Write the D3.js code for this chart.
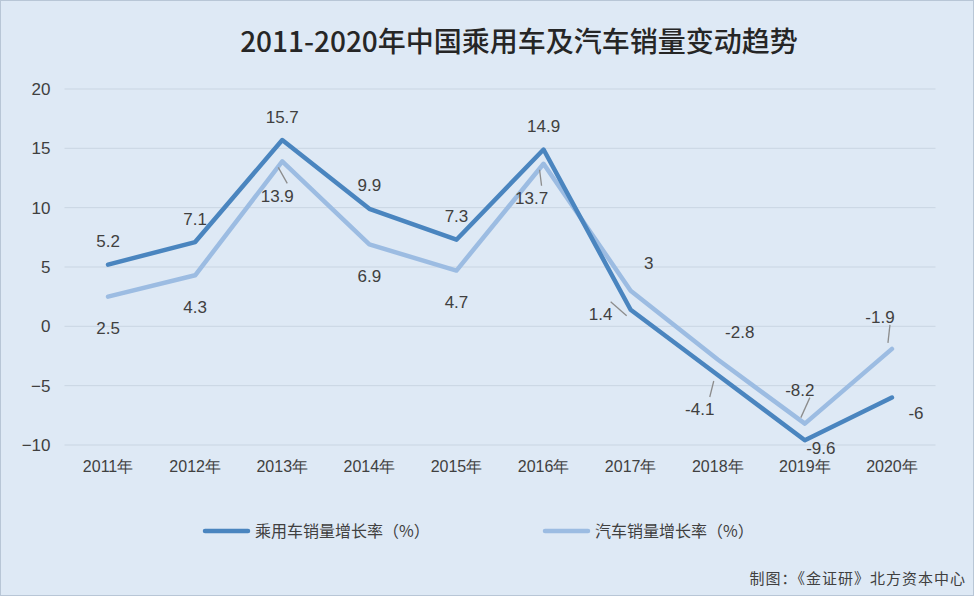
<!DOCTYPE html><html><head><meta charset="utf-8"><script src="https://cdn.jsdelivr.net/npm/d3@7"></script>
<style>body{margin:0}svg{font-family:"Noto Sans CJK SC","Noto Sans",sans-serif}</style></head><body><svg id="c" width="974" height="596"></svg><script>
const categories=["2011年","2012年","2013年","2014年","2015年","2016年","2017年","2018年","2019年","2020年"];
const passenger=[5.2,7.1,15.7,9.9,7.3,14.9,1.4,-4.1,-9.6,-6];
const auto=[2.5,4.3,13.9,6.9,4.7,13.7,3,-2.8,-8.2,-1.9];
const yTicks=[-10,-5,0,5,10,15,20];
const seriesNames=["乘用车销量增长率（%）","汽车销量增长率（%）"];
// label offsets [dx,dy,leader]
const pOff=[[0,-22],[0,-22],[0,-22],[0,-22],[0,-22],[0,-22],[-30,6,1],[-18,36,1],[16,9],[24,17]];
const aOff=[[0,33],[0,33],[-5,36,1],[0,33],[0,33],[-12,36,1],[18,-26],[22,-26],[-5,-32,1],[-12,-30,1]];
const svg=d3.select("#c");
svg.append("rect").attr("x",0.5).attr("y",0.5).attr("width",973).attr("height",595).attr("fill","#dee9f5").attr("stroke","#b8c6d6");
const x=d3.scaleBand().domain(categories).range([64.5,935.5]);
const y=d3.scaleLinear().domain([-10,20]).range([445,89]);
const cx=d=>x(d)+x.bandwidth()/2;
svg.append("text").attr("x",519).attr("y",52).attr("text-anchor","middle").attr("font-size",28).attr("font-weight",500).attr("fill","#262626").text("2011-2020年中国乘用车及汽车销量变动趋势");
svg.append("g").selectAll("line").data(yTicks).join("line").attr("x1",64.5).attr("x2",935.5).attr("y1",d=>y(d)).attr("y2",d=>y(d)).attr("stroke","#c9d5e2").attr("stroke-width",1);
svg.append("g").attr("transform","translate(64.5,0)").call(d3.axisLeft(y).tickValues(yTicks).tickSize(0).tickPadding(14).tickFormat(d3.format("d"))).call(g=>{g.select(".domain").remove();g.selectAll("text").attr("font-size",17).attr("fill","#404040").attr("font-family","Liberation Sans, sans-serif")});
svg.append("g").attr("transform","translate(0,445)").call(d3.axisBottom(x).tickSize(0).tickPadding(16)).call(g=>{g.select(".domain").remove();g.selectAll("text").attr("font-size",16).attr("fill","#404040")});
const colors=["#4a85bf","#9cbce2"];
const line=d3.line().x((d,i)=>cx(categories[i])).y(d=>y(d));
[auto,passenger].forEach((s,k)=>{svg.append("path").datum(s).attr("d",line).attr("fill","none").attr("stroke",k?colors[0]:colors[1]).attr("stroke-width",4.5).attr("stroke-linejoin","round").attr("stroke-linecap","round");});
function labels(s,off){s.forEach((v,i)=>{const px=cx(categories[i]),py=y(v),o=off[i];const tx=px+o[0],ty=py+o[1];
 if(o[2]){svg.append("line").attr("x1",px+(o[0]<0?-4:0)).attr("y1",py+(o[1]>0?6:-6)).attr("x2",tx+(o[0]<0?10:-(o[0]>0?10:0))).attr("y2",ty+(o[1]>0?-14:6)).attr("stroke","#8c8c8c").attr("stroke-width",1.3);}
 svg.append("text").attr("x",tx).attr("y",ty).attr("text-anchor","middle").attr("dominant-baseline","middle").attr("font-size",17).attr("fill","#404040").attr("font-family","Liberation Sans, sans-serif").text(v);});}
labels(passenger,pOff);labels(auto,aOff);
seriesNames.forEach((n,k)=>{const lx=k?545:205;svg.append("line").attr("x1",lx).attr("x2",lx+43).attr("y1",531).attr("y2",531).attr("stroke",colors[k]).attr("stroke-width",4.5).attr("stroke-linecap","round");svg.append("text").attr("x",lx+50).attr("y",537).attr("font-size",16).attr("fill","#404040").text(n);});
svg.append("text").attr("x",966).attr("y",584).attr("text-anchor","end").attr("font-size",15).attr("letter-spacing",1).attr("fill","#404040").text("制图：《金证研》北方资本中心");
</script></body></html>
